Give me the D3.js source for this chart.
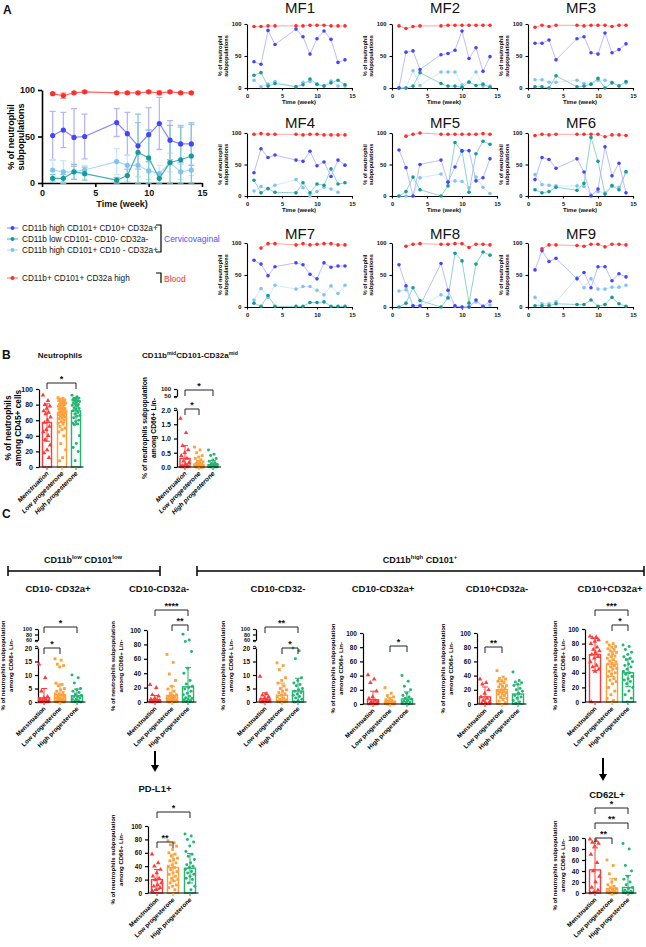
<!DOCTYPE html>
<html>
<head>
<meta charset="utf-8">
<script src="https://cdn.jsdelivr.net/npm/d3@7"></script>
<style>
  body { margin: 0; background: #fff; }
  svg { font-family: "Liberation Sans", Arial, sans-serif; }
</style>
</head>
<body>
<svg id="fig" width="646" height="947"></svg>
<script>
// ---- panel A data ----
const weeks = [1, 2, 3, 4, 7, 8, 9, 10, 11, 12, 13, 14]
const legendLabels = ['CD11b high CD101+ CD10+ CD32a+', 'CD11b low CD101- CD10- CD32a-', 'CD11b high CD101+ CD10 - CD32a+', 'CD11b+ CD101+ CD32a high']
const meanBlue = [51, 57, 49, 50, 65, 53, 40, 52, 64, 46, 42, 42]
const sdBlue = [26, 19, 31, 24, 15, 23, 25, 29, 28, 21, 20, 23]
const meanTeal = [5, 5, 12, 10, 3, 8, 33, 27, 5, 22, 25, 29]
const sdTeal = [4, 4, 8, 7, 3, 7, 41, 30, 5, 40, 35, 34]
const meanLight = [14, 12, 12, 14, 23, 19, 19, 13, 10, 22, 12, 14]
const sdLight = [11, 12, 8, 5, 14, 11, 12, 9, 9, 10, 8, 6]
const meanRed = [96, 94, 97, 98, 97, 97, 97, 98, 97, 98, 97, 97]
const sdRed = [1, 3, 1, 1, 1, 1, 1, 1, 2, 1, 1, 1]

// per macaque (MF1..MF9), one row per animal
const mfNames = ['MF1', 'MF2', 'MF3', 'MF4', 'MF5', 'MF6', 'MF7', 'MF8', 'MF9']
const mfBlue = [
  [41, 37, 90, 68, 92, 80, 53, 77, 89, 76, 40, 44],
  [0, 56, 58, 29, 52, 54, 59, 89, 46, 63, 26, 49],
  [70, 70, 75, 44, 77, 80, 55, 53, 86, 55, 60, 69],
  [37, 75, 61, 65, 57, 55, 71, 48, 54, 31, 57, 49],
  [73, 45, 0, 50, 57, 22, 46, 72, 72, 24, 29, 59],
  [26, 61, 58, 44, 59, 38, 0, 11, 78, 32, 52, 5],
  [73, 67, 49, 63, 69, 66, 51, 44, 69, 62, 64, 64],
  [66, 33, 2, 2, 68, 26, 2, 0, 0, 11, 1, 9],
  [58, 88, 71, 76, 44, 54, 30, 63, 63, 41, 52, 47]
]
const mfTeal = [
  [20, 24, 3, 7, 2, 5, 14, 6, 3, 8, 12, 5],
  [0, 0, 3, 24, 7, 3, 3, 1, 9, 4, 6, 1],
  [2, 2, 0, 19, 2, 3, 6, 15, 0, 8, 3, 10],
  [25, 5, 12, 6, 5, 21, 5, 19, 17, 43, 19, 21],
  [0, 7, 30, 10, 0, 16, 85, 71, 6, 67, 87, 82],
  [10, 5, 7, 14, 9, 20, 93, 55, 3, 16, 10, 39],
  [6, 1, 18, 1, 1, 1, 7, 7, 8, 1, 1, 1],
  [0, 6, 30, 10, 0, 14, 84, 72, 6, 67, 86, 81],
  [2, 2, 2, 5, 4, 4, 11, 1, 4, 15, 5, 1]
]
const mfLight = [
  [12, 2, 6, 10, 2, 9, 10, 5, 4, 11, 3, 3],
  [0, 0, 27, 4, 25, 25, 25, 5, 10, 25, 3, 3],
  [13, 13, 9, 9, 12, 7, 6, 12, 12, 9, 4, 8],
  [8, 15, 11, 17, 26, 13, 0, 7, 14, 11, 6, null],
  [0, 0, 0, 29, 35, 23, 24, 23, 13, 30, 14, 4],
  [34, 18, 17, 16, 16, 15, 2, 7, 5, 17, 14, 37],
  [11, 29, 15, 34, 28, 32, 32, 26, 19, 33, 21, 34],
  [25, 27, 2, 1, 19, 15, 1, 0, 0, 8, 1, 3],
  [15, 5, 5, 8, 46, 30, 44, 28, 28, 31, 31, 34]
]
const mfRed = [
  [96, 96, 97, 97, 97, 97, 98, 98, 98, 97, 97, 97],
  [97, 93, 96, 97, 97, 98, 98, 98, 98, 98, 98, 98],
  [95, 98, 96, 98, 98, 97, 98, 98, 98, 96, 98, 98],
  [98, 99, 98, 98, 98, 97, 98, 98, 97, 97, 97, 97],
  [null, 95, 98, 100, 98, 98, 98, 98, 98, 98, 99, 98],
  [96, 98, 97, 98, 98, 98, 98, 98, 94, 97, 97, 96],
  [null, 92, 99, 99, 97, 99, 97, 98, 99, 99, 97, 97],
  [null, 95, 98, 99, 98, 98, 99, 99, 93, 98, 98, 97],
  [null, 91, 97, 97, 96, 95, 98, 98, 94, 98, 98, 97]
]

// ---- panels B and C data ----
const groups = ['Menstruation', 'Low progesterone', 'High progesterone']
const groupColors = ['#ff3b3b', '#ffa03a', '#22b573']

const neutroMean = [57, 70, 72], neutroSd = [24, 13, 17]
const neutroPts = [
  [92, 85, 80, 78, 75, 72, 70, 68, 64, 60, 57, 52, 48, 45, 40, 35, 28, 22, 18, 12],
  [89, 88, 87, 86, 85, 85, 84, 83, 82, 81, 80, 80, 79, 78, 77, 76, 75, 75, 74, 73, 72, 71, 70, 70, 69, 68, 67, 66, 65, 64, 63, 62, 60, 58, 56, 55, 52, 50, 48, 45, 40, 30, 22, 12, 8],
  [92, 90, 88, 88, 87, 86, 85, 85, 84, 83, 82, 80, 80, 79, 78, 76, 75, 74, 72, 70, 68, 66, 65, 63, 60, 58, 56, 55, 54, 40, 30, 25, 20, 8]
]
const midMean = [0.3, 0.08, 0.08], midSd = [0.45, 0.15, 0.14]
const midPts = [
  [1.7, 1.2, 0.75, 0.6, 0.5, 0.4, 0.3, 0.2, 0.15, 0.1, 0.05, 0.05, 0.02, 0.01, 0, 0],
  [0.7, 0.6, 0.5, 0.4, 0.35, 0.3, 0.25, 0.2, 0.18, 0.15, 0.12, 0.1, 0.1, 0.08, 0.05, 0.05, 0.03, 0.02, 0.01, 0, 0, 0, 0, 0, 0],
  [0.6, 0.45, 0.4, 0.3, 0.25, 0.2, 0.15, 0.12, 0.1, 0.08, 0.05, 0.03, 0.02, 0.01, 0, 0, 0, 0]
]
const c1Mean = [1.5, 2.7, 2.3], c1Sd = [3.5, 4, 2.5]
const c1Pts = [
  [14, 9, 4, 2, 1.5, 1, 0.8, 0.5, 0.3, 0.2, 0.1, 0, 0, 0],
  [16, 15.5, 14, 13.5, 13, 7, 6.5, 6, 5, 4.5, 4, 3.5, 3, 3, 2.5, 2, 2, 1.5, 1.5, 1, 1, 0.8, 0.5, 0.5, 0.3, 0.2, 0.1, 0, 0, 0],
  [10, 9, 7, 5, 4.5, 4, 3.5, 3, 2.5, 2, 2, 1.5, 1, 1, 0.5, 0.3, 0, 0]
]
const c2Mean = [3, 9, 21], c2Sd = [6, 13, 27]
const c2Pts = [
  [24, 20, 10, 8, 5, 4, 3, 2, 2, 1, 1, 0.5, 0, 0],
  [66, 55, 39, 30, 22, 18, 15, 12, 10, 9, 8, 7, 6, 5, 5, 4, 3, 3, 2, 2, 1, 1, 0, 0],
  [94, 86, 84, 70, 47, 40, 30, 25, 22, 20, 18, 15, 12, 10, 8, 6, 5, 4, 3, 2, 1]
]
const c3Mean = [1.1, 2.5, 4.1], c3Sd = [2.3, 4.5, 4.7]
const c3Pts = [
  [9.5, 3, 2.5, 2, 1.5, 1, 0.8, 0.5, 0.3, 0.1, 0],
  [14.5, 13.5, 12, 9, 8, 7, 6, 5, 4.5, 4, 3.5, 3, 2.5, 2, 1.5, 1, 0.8, 0.5, 0.3, 0.1, 0],
  [20, 19, 16, 9, 8, 7, 6.5, 6, 5, 4.5, 4, 3.5, 3, 2.5, 2, 1.5, 1, 0.5, 0]
]
const c4Mean = [6, 3, 7], c4Sd = [12, 6, 10]
const c4Pts = [
  [41, 35, 30, 18, 10, 8, 5, 3, 2, 1, 0, 0],
  [23, 15, 12, 10, 8, 6, 5, 4, 3, 3, 2, 2, 1, 1, 0.5, 0, 0],
  [40, 32, 25, 20, 15, 12, 10, 8, 7, 5, 4, 3, 2, 1, 0]
]
const c5Mean = [10, 20, 14], c5Sd = [14, 12, 13]
const c5Pts = [
  [35, 30, 28, 20, 15, 10, 8, 5, 3, 2, 1],
  [47, 38, 36, 35, 33, 32, 30, 28, 26, 25, 24, 22, 20, 19, 18, 17, 16, 15, 14, 12, 10, 8, 6, 4, 2],
  [45, 33, 31, 30, 28, 26, 22, 20, 18, 15, 12, 10, 8, 5, 3, 1]
]
const c6Mean = [65, 52, 40], c6Sd = [22, 17, 19]
const c6Pts = [
  [90, 89, 88, 85, 83, 80, 75, 72, 70, 68, 65, 62, 60, 55, 50, 48, 45, 42, 0],
  [82, 80, 78, 76, 75, 73, 72, 70, 68, 66, 65, 63, 62, 60, 58, 56, 55, 53, 52, 50, 48, 46, 45, 42, 40, 38, 35, 32, 30, 28, 25, 20, 15, 10, 5, 2],
  [78, 76, 72, 68, 65, 62, 60, 58, 55, 52, 50, 48, 45, 42, 40, 38, 35, 32, 30, 28, 25, 20, 15, 10, 5, 0]
]
const pdl1Mean = [20, 38, 37], pdl1Sd = [15, 20, 22]
const pdl1Pts = [
  [58, 45, 40, 35, 30, 25, 22, 20, 15, 12, 10, 8, 5, 3],
  [78, 75, 72, 70, 65, 60, 58, 55, 52, 50, 48, 45, 42, 40, 38, 35, 32, 30, 28, 25, 22, 20, 18, 15, 12, 10, 8, 5],
  [88, 85, 80, 76, 70, 62, 58, 55, 50, 45, 42, 40, 38, 35, 32, 30, 28, 25, 22, 20, 15, 10, 5]
]
const cd62Mean = [42, 8, 10], cd62Sd = [40, 18, 22]
const cd62Pts = [
  [98, 95, 92, 90, 85, 70, 55, 40, 30, 20, 10, 5, 2, 0],
  [60, 50, 35, 25, 20, 15, 12, 10, 8, 5, 4, 3, 2, 1, 0, 0, 0, 0],
  [90, 80, 50, 40, 30, 25, 20, 15, 10, 8, 5, 3, 2, 1, 0, 0, 0]
]

const svg = d3.select('#fig')

function label(g, x, y, s, fs, opt = {}) {
  return g.append('text').attr('x', x).attr('y', y).text(s)
    .attr('font-size', fs)
    .attr('font-weight', opt.fw || 'bold')
    .attr('text-anchor', opt.anchor || 'middle')
    .attr('fill', opt.fill || '#111')
}

function supText(g, x, y, parts, fs) {
  const t = g.append('text').attr('x', x).attr('y', y).attr('text-anchor', 'middle')
    .attr('font-size', fs).attr('font-weight', 'bold').attr('fill', '#111')
  let up = false
  parts.forEach(([s, sup]) => {
    const sp = t.append('tspan').text(s).attr('font-size', sup ? fs * 0.65 : fs)
    if (sup && !up) { sp.attr('dy', -fs * 0.4); up = true }
    else if (!sup && up) { sp.attr('dy', fs * 0.4); up = false }
  })
}

function styleAxis(a, fs, sw) {
  a.selectAll('path, line').attr('stroke', '#000').attr('stroke-width', sw)
  a.selectAll('text').attr('font-size', fs).attr('font-weight', 'bold').attr('fill', '#111')
    .attr('font-family', '"Liberation Sans", Arial, sans-serif')
}

// ---------------- panel A ----------------
label(svg, 3, 14, 'A', 12, {anchor: 'start'})

const xA = d3.scaleLinear().domain([0, 15]).range([42, 202])
const yA = d3.scaleLinear().domain([0, 100]).range([183, 90])
const gA = svg.append('g')
styleAxis(gA.append('g').attr('transform', 'translate(0,183)')
  .call(d3.axisBottom(xA).tickValues([0, 5, 10, 15]).tickSize(4).tickSizeOuter(0)), 9, 1.6)
styleAxis(gA.append('g').attr('transform', 'translate(42,0)')
  .call(d3.axisLeft(yA).tickValues([0, 50, 100]).tickSize(4).tickSizeOuter(0)), 9, 1.6)
gA.append('text').attr('transform', 'translate(14,137) rotate(-90)').attr('text-anchor', 'middle')
  .attr('font-size', 9).attr('font-weight', 'bold').text('% of neutrophil')
gA.append('text').attr('transform', 'translate(24,137) rotate(-90)').attr('text-anchor', 'middle')
  .attr('font-size', 9).attr('font-weight', 'bold').text('subpopulations')
label(gA, 122, 207, 'Time (week)', 9)

const aSeries = [
  {mean: meanBlue, sd: sdBlue, c: '#4444ff', lc: '#8585ff', ec: '#b6b6ff'},
  {mean: meanLight, sd: sdLight, c: '#80c2f7', lc: '#a9d7fb', ec: '#cbe6fc'},
  {mean: meanTeal, sd: sdTeal, c: '#139b9b', lc: '#3db3b3', ec: '#86cccc'},
  {mean: meanRed, sd: sdRed, c: '#ff2e2e', lc: '#ff6464', ec: '#ff9a9a'}
]
aSeries.forEach(s => {
  weeks.forEach((w, i) => {
    const lo = Math.max(0, s.mean[i] - s.sd[i]), hi = s.mean[i] + s.sd[i]
    const x = xA(w)
    gA.append('path')
      .attr('d', `M${x},${yA(lo)}V${yA(hi)}M${x - 3},${yA(hi)}H${x + 3}M${x - 3},${yA(lo)}H${x + 3}`)
      .attr('stroke', s.ec).attr('stroke-width', 1.3).attr('fill', 'none')
  })
})
aSeries.forEach(s => {
  gA.append('path').datum(s.mean)
    .attr('d', d3.line().x((d, i) => xA(weeks[i])).y(d => yA(d)))
    .attr('fill', 'none').attr('stroke', s.lc).attr('stroke-width', 1.2)
  gA.selectAll(null).data(s.mean).enter().append('circle')
    .attr('cx', (d, i) => xA(weeks[i])).attr('cy', d => yA(d)).attr('r', 2.6).attr('fill', s.c)
})

// legend
const legColors = [aSeries[0], aSeries[2], aSeries[1], aSeries[3]]
const legY = [228, 239, 250, 278]
legendLabels.forEach((t, i) => {
  svg.append('line').attr('x1', 7).attr('x2', 18).attr('y1', legY[i]).attr('y2', legY[i])
    .attr('stroke', legColors[i].lc).attr('stroke-width', 1)
  svg.append('circle').attr('cx', 12.5).attr('cy', legY[i]).attr('r', 2).attr('fill', legColors[i].c)
  label(svg, 22, legY[i] + 3, t, 8.2, {anchor: 'start', fw: 'normal'})
})
svg.append('path').attr('d', 'M156,225H161V252H156').attr('fill', 'none').attr('stroke', '#000').attr('stroke-width', 1.2)
label(svg, 164, 242, 'Cervicovaginal', 8.5, {anchor: 'start', fw: 'normal', fill: '#5151ff'})
svg.append('path').attr('d', 'M156,273H161V283').attr('fill', 'none').attr('stroke', '#000').attr('stroke-width', 1.2)
label(svg, 164, 282, 'Blood', 8.5, {anchor: 'start', fw: 'normal', fill: '#ff2e2e'})

// MF small multiples
const mfLeft = [247, 392, 528]
const mfTop = [24, 133, 243]
const mfBottom = [88, 196, 307]
const mfTitleY = [13, 128, 239]
mfNames.forEach((name, k) => {
  const col = k % 3, row = Math.floor(k / 3)
  const x0 = mfLeft[col]
  const x = d3.scaleLinear().domain([0, 15]).range([x0, x0 + 105])
  const y = d3.scaleLinear().domain([0, 100]).range([mfBottom[row], mfTop[row]])
  const g = svg.append('g')
  label(g, x0 + 53, mfTitleY[row], name, 15, {fw: 'normal'})
  styleAxis(g.append('g').attr('transform', `translate(0,${mfBottom[row]})`)
    .call(d3.axisBottom(x).tickValues([0, 5, 10, 15]).tickSize(2.5).tickSizeOuter(0)), 5.8, 1.1)
  styleAxis(g.append('g').attr('transform', `translate(${x0},0)`)
    .call(d3.axisLeft(y).tickValues([0, 50, 100]).tickSize(2.5).tickSizeOuter(0)), 5.8, 1.1)
  const cy = (mfTop[row] + mfBottom[row]) / 2
  g.append('text').attr('transform', `translate(${x0 - 25},${cy}) rotate(-90)`).attr('text-anchor', 'middle')
    .attr('font-size', 5.6).attr('font-weight', 'bold').text('% of neutrophil')
  g.append('text').attr('transform', `translate(${x0 - 19},${cy}) rotate(-90)`).attr('text-anchor', 'middle')
    .attr('font-size', 5.6).attr('font-weight', 'bold').text('subpopulations')
  if (row < 2) label(g, x0 + 52, mfBottom[row] + 16, 'Time (week)', 6)
  const ser = [
    {v: mfLight[k], s: aSeries[1]},
    {v: mfTeal[k], s: aSeries[2]},
    {v: mfBlue[k], s: aSeries[0]},
    {v: mfRed[k], s: aSeries[3]}
  ]
  ser.forEach(({v, s}) => {
    g.append('path').datum(v)
      .attr('d', d3.line().defined(d => d != null).x((d, i) => x(weeks[i])).y(d => y(d)))
      .attr('fill', 'none').attr('stroke', s.ec).attr('stroke-width', 0.9)
  })
  ser.forEach(({v, s}) => {
    g.selectAll(null).data(v.map((d, i) => [weeks[i], d]).filter(d => d[1] != null)).enter()
      .append('circle').attr('cx', d => x(d[0])).attr('cy', d => y(d[1])).attr('r', 1.8).attr('fill', s.c)
  })
})

// ---------------- bar + dot charts (B, C) ----------------
const symTypes = [d3.symbolTriangle, d3.symbolSquare, d3.symbolCircle]
const symSizes = [9, 8, 7]

function barChart(c) {
  const g = svg.append('g')
  const lowS = d3.scaleLinear().domain(c.low).range([c.y0, c.y1])
  const upS = c.up ? d3.scaleLinear().domain(c.up).range(c.upY) : null
  const yv = v => (upS && v > c.low[1]) ? upS(Math.min(v, c.up[1])) : lowS(Math.max(0, v))
  const fmt = c.fmt || d3.format('d')

  // title
  if (c.titleParts) supText(g, c.tx, c.ty, c.titleParts, c.titleFs)
  else label(g, c.tx, c.ty, c.title, c.titleFs)

  // y axes
  styleAxis(g.append('g').attr('transform', `translate(${c.ax},0)`)
    .call(d3.axisLeft(lowS).tickValues(c.ticks).tickSize(3).tickSizeOuter(0).tickFormat(fmt)), c.tickFs, 1.2)
  if (upS) {
    styleAxis(g.append('g').attr('transform', `translate(${c.ax},0)`)
      .call(d3.axisLeft(upS).tickValues(c.upTicks).tickSize(3).tickSizeOuter(0).tickFormat(d3.format('d'))), c.upFs || c.tickFs, 1.2)
    const ya = c.upY[0], yb = c.y1
    g.append('path').attr('d', `M${c.ax - 3},${ya + 1}Q${c.ax},${ya + 3} ${c.ax},${ya}M${c.ax - 3},${yb - 1}Q${c.ax},${yb - 3} ${c.ax},${yb}`)
      .attr('fill', 'none').attr('stroke', '#000').attr('stroke-width', 1)
  }
  // y label
  const cy = ((c.upY ? c.upY[1] : c.y1) + c.y0) / 2
  c.ylab.forEach((t, i) => {
    g.append('text').attr('transform', `translate(${c.ylx[i]},${cy}) rotate(-90)`).attr('text-anchor', 'middle')
      .attr('font-size', c.ylabFs).attr('font-weight', 'bold').text(t)
  })

  // bars, error bars, dots
  c.bars.forEach((cx, gi) => {
    const col = groupColors[gi]
    const m = c.mean[gi], s = c.sd[gi]
    g.append('rect').attr('x', cx - c.bw / 2).attr('width', c.bw)
      .attr('y', yv(m)).attr('height', c.y0 - yv(m))
      .attr('fill', 'none').attr('stroke', col).attr('stroke-width', 1.4)
    const hi = yv(m + s), lo = yv(Math.max(0, m - s))
    g.append('path').attr('d', `M${cx},${lo}V${hi}M${cx - 3},${hi}H${cx + 3}M${cx - 3},${lo}H${cx + 3}`)
      .attr('stroke', col).attr('stroke-width', 1).attr('fill', 'none')
    const sym = d3.symbol().type(symTypes[gi]).size(symSizes[gi])
    g.selectAll(null).data(c.pts[gi]).enter().append('path')
      .attr('d', sym)
      .attr('transform', (d, i) => {
        const off = ((i * 0.618034) % 1 - 0.5) * (c.bw - 1)
        return `translate(${cx + off},${yv(d)})`
      })
      .attr('fill', col)
  })

  // x axis with coloured ticks
  const xEnd = c.bars[2] + c.bw / 2 + 3
  g.append('line').attr('x1', c.ax).attr('x2', xEnd).attr('y1', c.y0).attr('y2', c.y0)
    .attr('stroke', '#000').attr('stroke-width', 1.2)
  c.bars.forEach((cx, gi) => {
    g.append('line').attr('x1', cx).attr('x2', cx).attr('y1', c.y0).attr('y2', c.y0 + 3)
      .attr('stroke', groupColors[gi]).attr('stroke-width', 1.2)
    g.append('text').attr('transform', `translate(${cx + 2},${c.y0 + 7}) rotate(-45)`)
      .attr('text-anchor', 'end').attr('font-size', c.xFs).attr('font-weight', 'bold')
      .attr('font-style', c.italic ? 'italic' : 'normal').text(groups[gi])
  })

  // significance brackets
  c.sig.forEach(([a, b, star, y]) => {
    const x1 = c.bars[a], x2 = c.bars[b]
    g.append('path').attr('d', `M${x1},${y + 6}V${y}H${x2}V${y + 6}`)
      .attr('fill', 'none').attr('stroke', '#222').attr('stroke-width', 1)
    label(g, (x1 + x2) / 2, y - 1.5, star, 9)
  })
}

label(svg, 2, 359, 'B', 12, {anchor: 'start'})
label(svg, 2, 518, 'C', 12, {anchor: 'start'})

const cYlab = ['% of neutrophils subpopulation', 'among CD66+ Lin-']
const common = {titleFs: 9.5, tickFs: 6.5, xFs: 6.2, ylabFs: 6, bw: 11, ylab: cYlab}

const charts = [
  {title: 'Neutrophils', tx: 60, ty: 358, titleFs: 8, ax: 39, bars: [47, 62, 76], bw: 9,
    y0: 467, y1: 389, low: [0, 100], ticks: [0, 20, 40, 60, 80, 100], tickFs: 7,
    pts: neutroPts, mean: neutroMean, sd: neutroSd, sig: [[0, 2, '*', 383]],
    ylab: ['% of neutrophils', 'among CD45+ cells'], ylx: [11, 20.5], ylabFs: 8.3, xFs: 6.5, italic: true},
  {titleParts: [['CD11b'], ['mid', 1], ['CD101-CD32a'], ['mid', 1]], tx: 190, ty: 358, titleFs: 8,
    ax: 177, bars: [185, 199, 213], bw: 10,
    y0: 467, y1: 410, low: [0, 2], ticks: [0, 0.5, 1, 1.5, 2], fmt: d3.format('.1f'),
    up: [50, 100], upY: [396, 389], upTicks: [50, 100], tickFs: 7, upFs: 6,
    pts: midPts, mean: midMean, sd: midSd, sig: [[0, 2, '*', 390], [0, 1, '*', 409]],
    ylab: cYlab, ylx: [147, 156], ylabFs: 6.8, xFs: 6.5, italic: true},
  Object.assign({}, common, {title: 'CD10- CD32a+', tx: 58, ty: 592, ax: 38, bars: [44, 60, 77],
    y0: 702, y1: 648, low: [0, 20], ticks: [0, 5, 10, 15, 20], up: [60, 100], upY: [640, 629], upTicks: [60, 80, 100], upFs: 5.5,
    pts: c1Pts, mean: c1Mean, sd: c1Sd, sig: [[0, 2, '*', 627], [0, 1, '*', 648]], ylx: [5, 13]}),
  Object.assign({}, common, {title: 'CD10-CD32a-', tx: 159, ty: 592, ax: 147, bars: [155, 172, 188],
    y0: 702, y1: 630, low: [0, 100], ticks: [0, 20, 40, 60, 80, 100],
    pts: c2Pts, mean: c2Mean, sd: c2Sd, sig: [[0, 2, '****', 610], [1, 2, '**', 625]], ylx: [115, 123]}),
  Object.assign({}, common, {title: 'CD10-CD32-', tx: 278, ty: 592, ax: 256, bars: [265, 282, 298],
    y0: 702, y1: 648, low: [0, 20], ticks: [0, 5, 10, 15, 20], up: [60, 100], upY: [640, 629], upTicks: [60, 80, 100], upFs: 5.5,
    pts: c3Pts, mean: c3Mean, sd: c3Sd, sig: [[0, 2, '**', 627], [1, 2, '*', 648]], ylx: [225, 233]}),
  Object.assign({}, common, {title: 'CD10-CD32a+', tx: 383, ty: 592, ax: 363, bars: [373, 390, 407],
    y0: 704, y1: 633, low: [0, 100], ticks: [0, 20, 40, 60, 80, 100],
    pts: c4Pts, mean: c4Mean, sd: c4Sd, sig: [[1, 2, '*', 646]], ylx: [335, 343]}),
  Object.assign({}, common, {title: 'CD10+CD32a-', tx: 497, ty: 592, ax: 477, bars: [485, 502, 518],
    y0: 704, y1: 633, low: [0, 100], ticks: [0, 20, 40, 60, 80, 100],
    pts: c5Pts, mean: c5Mean, sd: c5Sd, sig: [[0, 1, '**', 647]], ylx: [445, 453]}),
  Object.assign({}, common, {title: 'CD10+CD32a+', tx: 610, ty: 592, ax: 585, bars: [595, 612, 628],
    y0: 702, y1: 629, low: [0, 100], ticks: [0, 20, 40, 60, 80, 100],
    pts: c6Pts, mean: c6Mean, sd: c6Sd, sig: [[0, 2, '***', 610], [1, 2, '*', 625]], ylx: [557, 565]}),
  Object.assign({}, common, {title: 'PD-L1+', tx: 155, ty: 792, ax: 148, bars: [157, 173, 190],
    y0: 893, y1: 826, low: [0, 100], ticks: [0, 20, 40, 60, 80, 100],
    pts: pdl1Pts, mean: pdl1Mean, sd: pdl1Sd, sig: [[0, 1, '**', 842], [0, 2, '*', 812]], ylx: [115, 123]}),
  Object.assign({}, common, {title: 'CD62L+', tx: 607, ty: 798, ax: 585, bars: [595, 612, 628],
    y0: 893, y1: 838, low: [0, 100], ticks: [0, 20, 40, 60, 80, 100],
    pts: cd62Pts, mean: cd62Mean, sd: cd62Sd, sig: [[0, 2, '*', 808], [0, 2, '**', 823], [0, 1, '**', 838]], ylx: [557, 565]})
]
charts.forEach(barChart)

// C header brackets
const hb = svg.append('g')
hb.append('path').attr('d', 'M8,566V576M8,571H160M160,566V576M197,566V576M197,571H644M644,566V576')
  .attr('fill', 'none').attr('stroke', '#000').attr('stroke-width', 1.5)
supText(hb, 83, 563, [['CD11b'], ['low', 1], [' CD101'], ['low', 1]], 9)
supText(hb, 420, 563, [['CD11b'], ['high', 1], [' CD101'], ['+', 1]], 9)

// arrows
function arrow(x, y1, y2) {
  svg.append('line').attr('x1', x).attr('x2', x).attr('y1', y1).attr('y2', y2 - 5)
    .attr('stroke', '#000').attr('stroke-width', 2)
  svg.append('path').attr('d', `M${x - 4},${y2 - 7}L${x + 4},${y2 - 7}L${x},${y2}Z`).attr('fill', '#000')
}
arrow(155, 751, 772)
arrow(603, 758, 781)
</script>
</body>
</html>
